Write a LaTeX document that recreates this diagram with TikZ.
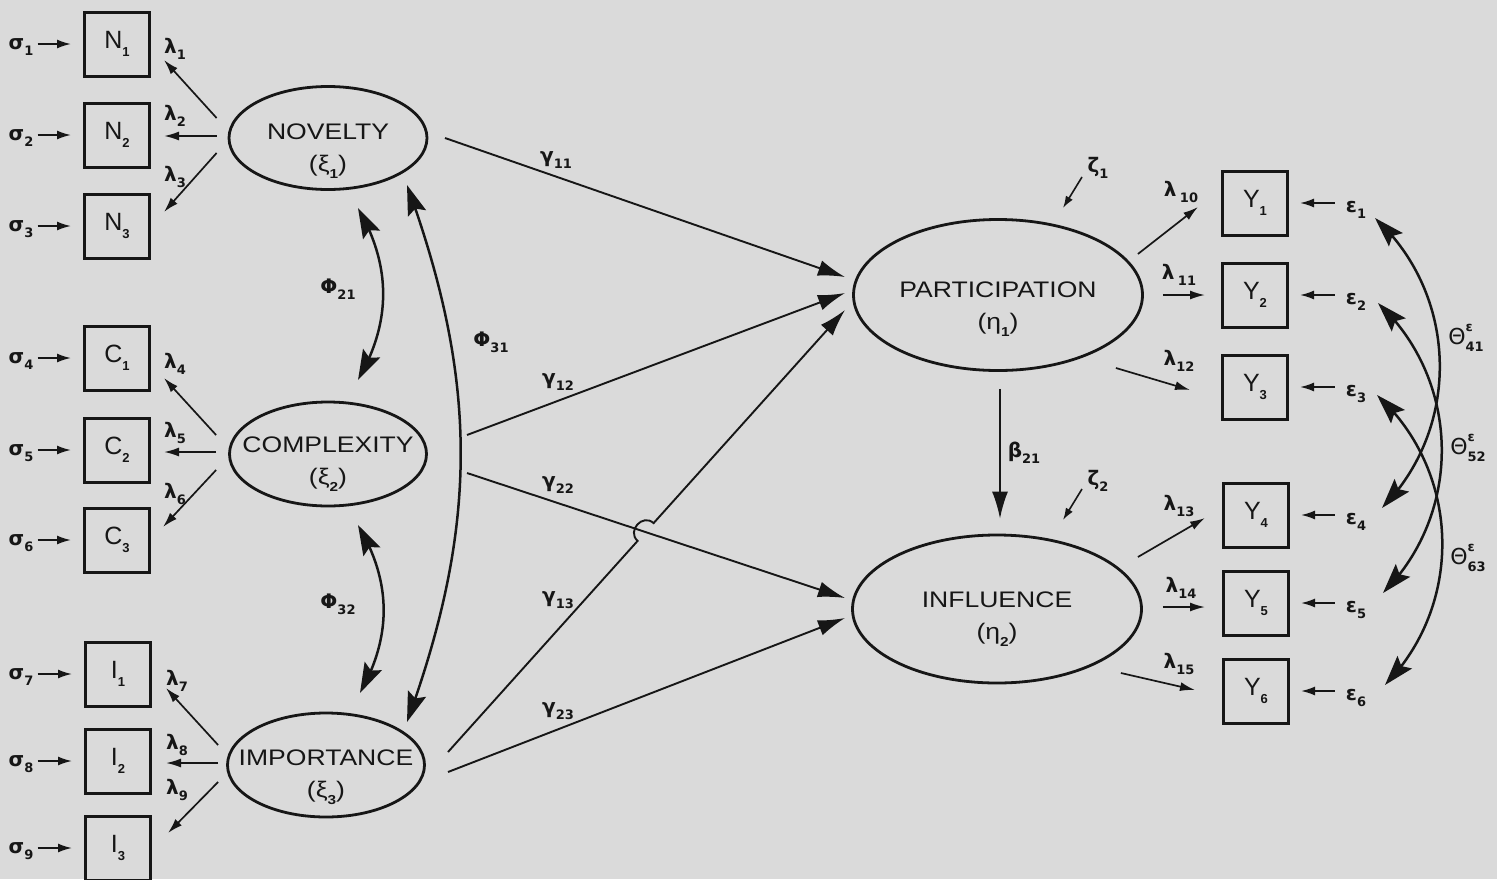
\documentclass[tikz,border=0pt]{standalone}
\usepackage{fontspec}
\setmainfont{Liberation Sans}
\newfontfamily\grk{DejaVu Sans}
\newfontfamily\ellf[FakeStretch=1.18]{Liberation Sans}
\usetikzlibrary{shapes.geometric,arrows.meta,calc,bending}
\definecolor{bg}{RGB}{218,218,218}
\definecolor{ink}{RGB}{22,22,22}
\newcommand\lsub[1]{\raisebox{-0.32em}{\fontsize{13}{14}\selectfont\bfseries #1}}
\newcommand\gl[2]{{\grk\bfseries\fontsize{20}{21}\selectfont #1\lsub{#2}}}
\newcommand\thl[1]{{\grk\fontsize{22}{23}\selectfont Θ\rlap{\raisebox{0.6em}{\fontsize{13}{14}\selectfont\bfseries ε}}\lsub{#1}}}
\begin{document}
\begin{tikzpicture}[x=1pt,y=-1pt,
  box/.style={draw=ink,line width=3pt,minimum width=65pt,minimum height=64pt,inner sep=0pt,text=ink,font=\fontsize{25}{28}\selectfont},
  ell/.style={draw=ink,ellipse,line width=2.8pt,inner sep=0pt},
  elltext/.style={align=center,text=ink,inner sep=0pt,font=\ellf\fontsize{22.5}{32}\selectfont},
  lab/.style={text=ink,inner sep=1pt},
  sarrow/.style={draw=ink,line width=1.8pt,-{Latex[length=14pt,width=9pt]}},
  larrow/.style={draw=ink,line width=1.7pt,-{Latex[length=15pt,width=9pt]}},
  garrow/.style={draw=ink,line width=1.9pt,-{Latex[length=27pt,width=16pt]}},
  zarrow/.style={draw=ink,line width=1.6pt,-{Latex[length=12pt,width=8pt]}},
  carrow/.style={draw=ink,line width=2.5pt,{Stealth[length=30pt,width=19pt,inset=5pt]}-{Stealth[length=30pt,width=19pt,inset=5pt]}}
]
\fill[bg] (0,0) rectangle (1497,879);
\useasboundingbox (0,0) rectangle (1497,879);

% ---------- observed boxes left
\node[box] (N1) at (117,44) {N\lsub{1}};
\node[box] (N2) at (117,135) {N\lsub{2}};
\node[box] (N3) at (117,226) {N\lsub{3}};
\node[box] (C1) at (117,358) {C\lsub{1}};
\node[box] (C2) at (117,450) {C\lsub{2}};
\node[box] (C3) at (117,540) {C\lsub{3}};
\node[box] (I1) at (118,674) {I\lsub{1}};
\node[box] (I2) at (118,761) {I\lsub{2}};
\node[box] (I3) at (118,848) {I\lsub{3}};

% ---------- observed boxes right
\node[box] (Y1) at (1255,203) {Y\lsub{1}};
\node[box] (Y2) at (1255,295) {Y\lsub{2}};
\node[box] (Y3) at (1255,387) {Y\lsub{3}};
\node[box] (Y4) at (1256,515) {Y\lsub{4}};
\node[box] (Y5) at (1256,603) {Y\lsub{5}};
\node[box] (Y6) at (1256,691) {Y\lsub{6}};

% ---------- latent ellipses
\node[ell,minimum width=198pt,minimum height=103pt,label={[elltext,yshift=-13pt]center:{NOVELTY\\(ξ\lsub{1})}}] (nov) at (328,138) {};
\node[ell,minimum width=197pt,minimum height=104pt,label={[elltext,yshift=-10pt]center:{COMPLEXITY\\(ξ\lsub{2})}}] (com) at (328,454) {};
\node[ell,minimum width=197pt,minimum height=104pt,label={[elltext,yshift=-12pt]center:{IMPORTANCE\\(ξ\lsub{3})}}] (imp) at (326,765) {};
\node[ell,minimum width=289pt,minimum height=151pt,label={[elltext,yshift=-14pt]center:{PARTICIPATION\\(η\lsub{1})}}] (par) at (998,295) {};
\node[ell,minimum width=289pt,minimum height=148pt,label={[elltext,yshift=-10pt]center:{INFLUENCE\\(η\lsub{2})}}] (inf) at (997,609) {};

% ---------- sigma labels and arrows
\foreach \i/\b/\y in {1/N1/44,2/N2/135,3/N3/226,4/C1/358,5/C2/450,6/C3/540,7/I1/674,8/I2/761,9/I3/848}{
  \node[lab] (s\i) at (21,\y+3) {\gl{σ}{\i}};
  \draw[sarrow,shorten <=3pt,shorten >=12pt] (s\i.east |- \b.west) -- (\b.west);
}

% ---------- epsilon labels and arrows
\foreach \i/\b/\y in {1/Y1/203,2/Y2/295,3/Y3/387,4/Y4/515,5/Y5/603,6/Y6/691}{
  \node[lab] (e\i) at (1356,\y+7) {\gl{ε}{\i}};
  \draw[sarrow,shorten <=10pt,shorten >=11pt] (e\i.west |- \b.east) -- (\b.east);
}

% ---------- lambda arrows (left)
\draw[larrow] ($(nov.west)+(-11,-20)$) -- ($(N1.east)+(13,16)$);
\draw[larrow] ($(nov.west)+(-11,-2)$) -- ($(N2.east)+(13,1)$);
\draw[larrow] ($(nov.west)+(-11,15)$) -- ($(N3.east)+(13,-14)$);
\draw[larrow] ($(com.west)+(-12,-19)$) -- ($(C1.east)+(13,20)$);
\draw[larrow] ($(com.west)+(-12,-2)$) -- ($(C2.east)+(13,2)$);
\draw[larrow] ($(com.west)+(-12,16)$) -- ($(C3.east)+(12,-13)$);
\draw[larrow] ($(imp.west)+(-8,-20)$) -- ($(I1.east)+(14,14)$);
\draw[larrow] ($(imp.west)+(-8,-2)$) -- ($(I2.east)+(14,2)$);
\draw[larrow] ($(imp.west)+(-8,17)$) -- ($(I3.east)+(16,-15)$);

\node[lab] (l1) at (175,49) {\gl{λ}{1}};
\node[lab] (l2) at (175,116) {\gl{λ}{2}};
\node[lab] (l3) at (175,177) {\gl{λ}{3}};
\node[lab] (l4) at (175,364) {\gl{λ}{4}};
\node[lab] (l5) at (175,433) {\gl{λ}{5}};
\node[lab] (l6) at (175,494) {\gl{λ}{6}};
\node[lab] (l7) at (177,681) {\gl{λ}{7}};
\node[lab] (l8) at (177,745) {\gl{λ}{8}};
\node[lab] (l9) at (177,790) {\gl{λ}{9}};

% ---------- lambda arrows (right)
\draw[larrow] ($(par.east)+(-6,-41)$) -- ($(Y1.west)+(-23,4)$);
\draw[larrow] ($(par.east)+(19,0)$) -- ($(Y2.west)+(-16,0)$);
\draw[larrow] ($(par.east)+(-28,73)$) -- ($(Y3.west)+(-31,3)$);
\draw[larrow] ($(inf.east)+(-5,-52)$) -- ($(Y4.west)+(-17,3)$);
\draw[larrow] ($(inf.east)+(20,-2)$) -- ($(Y5.west)+(-17,4)$);
\draw[larrow] ($(inf.east)+(-22,64)$) -- ($(Y6.west)+(-27,-1)$);

\node[lab] (l10) at (1181,192) {\gl{λ\,}{10}};
\node[lab] (l11) at (1179,275) {\gl{λ\,}{11}};
\node[lab] (l12) at (1179,361) {\gl{λ}{12}};
\node[lab] (l13) at (1179,506) {\gl{λ}{13}};
\node[lab] (l14) at (1181,588) {\gl{λ}{14}};
\node[lab] (l15) at (1179,664) {\gl{λ}{15}};

% ---------- phi covariances
\coordinate (p21a) at (358,208); \coordinate (p21b) at (358,380);
\coordinate (p32a) at (358,525); \coordinate (p32b) at (360,693);
\coordinate (p31a) at (407,185); \coordinate (p31b) at (407,722);
\draw[carrow] (p21a) to[bend left=30] (p21b);
\draw[carrow] (p32a) to[bend left=30] (p32b);
\draw[carrow] (p31a) to[bend left=20] (p31b);
\node[lab] (f21) at (338,289) {\gl{Φ}{21}};
\node[lab] (f32) at (338,604) {\gl{Φ}{32}};
\node[lab] (f31) at (491,342) {\gl{Φ}{31}};

% ---------- gamma paths
\coordinate (g11a) at (445,138);  \coordinate (g11b) at (845,277);
\coordinate (g12a) at (467,435);  \coordinate (g12b) at (845,293);
\coordinate (g13a) at (448,752);  \coordinate (g13b) at (845,310);
\coordinate (g22a) at (467,473);  \coordinate (g22b) at (845,598);
\coordinate (g23a) at (448,772);  \coordinate (g23b) at (845,618);
\coordinate (hopA) at (637.6,540.9); \coordinate (hopB) at (653.6,523.1);
\draw[garrow] (g11a) -- (g11b);
\draw[garrow] (g12a) -- (g12b);
\draw[garrow] (g22a) -- (g22b);
\draw[garrow] (g23a) -- (g23b);
\draw[garrow] (g13a) -- (hopA) .. controls ($(hopA)+(-11,-10)$) and ($(hopB)+(-11,-10)$) .. (hopB) -- (g13b);
\node[lab] (t11) at (556,160) {\gl{γ}{11}};
\node[lab] (t12) at (558,382) {\gl{γ}{12}};
\node[lab] (t22) at (558,485) {\gl{γ}{22}};
\node[lab] (t13) at (558,600) {\gl{γ}{13}};
\node[lab] (t23) at (558,711) {\gl{γ}{23}};

% ---------- beta and zeta
\draw[garrow] ($(par.south)+(2,17)$) -- ($(inf.north)+(3,-15)$);
\node[lab] (b21) at (1024,453) {\gl{β}{21}};
\node[lab] (z1) at (1098,168) {\gl{ζ}{1}};
\node[lab] (z2) at (1098,481) {\gl{ζ}{2}};
\draw[zarrow] ($(z1)+(-16,9)$) -- ($(z1)+(-35,40)$);
\draw[zarrow] ($(z2)+(-16,8)$) -- ($(z2)+(-35,39)$);

% ---------- theta covariances
\coordinate (th1a) at (1375,218); \coordinate (th1b) at (1382,508);
\coordinate (th2a) at (1378,303); \coordinate (th2b) at (1383,593);
\coordinate (th3a) at (1377,395); \coordinate (th3b) at (1385,685);
\draw[carrow] (th1a) to[bend left=46] (th1b);
\draw[carrow] (th2a) to[bend left=46] (th2b);
\draw[carrow] (th3a) to[bend left=46] (th3b);
\node[lab] (q41) at (1466,338) {\thl{41}};
\node[lab] (q52) at (1468,448) {\thl{52}};
\node[lab] (q63) at (1468,558) {\thl{63}};
\end{tikzpicture}
\end{document}
